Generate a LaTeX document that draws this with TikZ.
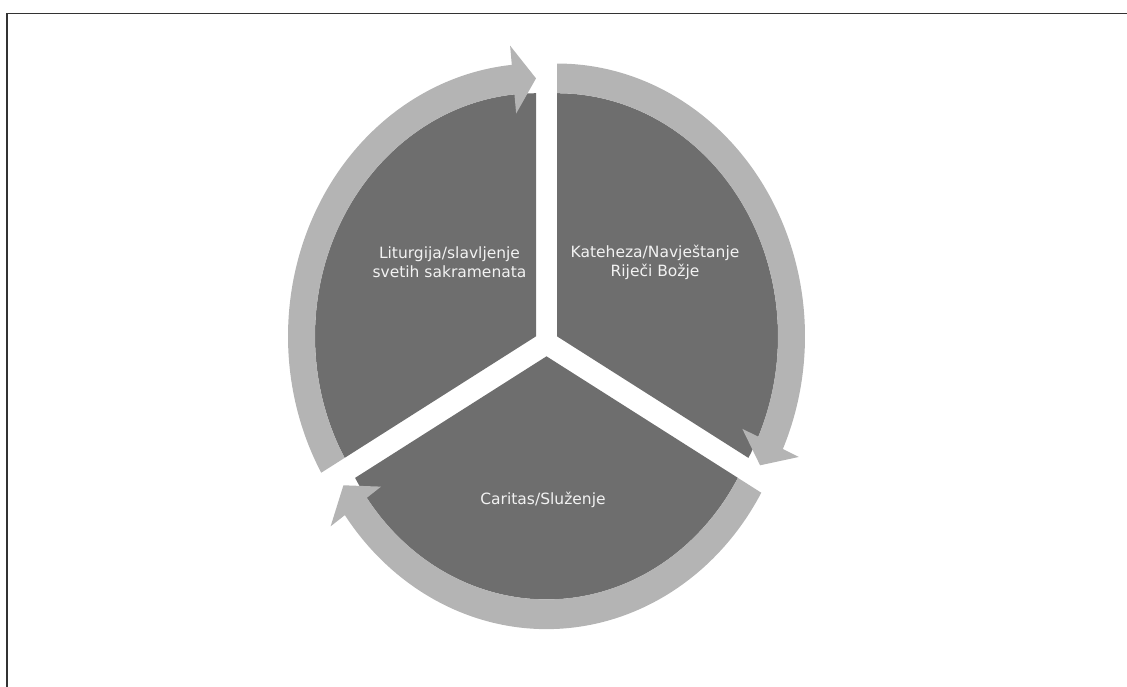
\documentclass[tikz,border=0pt]{standalone}
\usepackage{fontspec}
\setmainfont{DejaVu Sans}
\usetikzlibrary{positioning}
\definecolor{segdark}{RGB}{110,110,110}
\definecolor{ringlight}{RGB}{180,180,180}
\tikzstyle{seg}=[fill=segdark]
\tikzstyle{ring}=[fill=ringlight]
\tikzstyle{lbl}=[text=white!95!black, align=center, font=\fontsize{15.5}{19}\selectfont, inner sep=0pt]
\tikzstyle{frame}=[draw=black!80, line width=1.5pt]

\begin{document}
\begin{tikzpicture}[x=1pt,y=1pt]
\useasboundingbox (0,0) rectangle (1127,687);
\draw[frame] (7,0) -- (7,673.5) -- (1127,673.5);

% Liturgija
\begin{scope}[shift={(546.5,344)},yscale=1.1,shift={(150:12.12)}]
\fill[seg] (0,0) -- (90:221) arc[start angle=90,end angle=210,radius=221] -- cycle;
\fill[ring] (210:248) arc[start angle=210,end angle=95.6,radius=248]
  -- (95.6:265.5) -- (90:234.5) -- (95.6:203.5) -- (95.6:221)
  arc[start angle=95.6,end angle=210,radius=221] -- cycle;
\end{scope}

% Kateheza
\begin{scope}[shift={(546.5,344)},yscale=1.1,shift={(30:12.12)}]
\fill[seg] (0,0) -- (-30:221) arc[start angle=-30,end angle=90,radius=221] -- cycle;
\fill[ring] (90:248) arc[start angle=90,end angle=-24.4,radius=248]
  -- (-24.4:265.5) -- (-30:234.5) -- (-24.4:203.5) -- (-24.4:221)
  arc[start angle=-24.4,end angle=90,radius=221] -- cycle;
\end{scope}

% Caritas
\begin{scope}[shift={(546.5,344)},yscale=1.1,shift={(270:12.12)}]
\fill[seg] (0,0) -- (210:221) arc[start angle=210,end angle=330,radius=221] -- cycle;
\fill[ring] (330:248) arc[start angle=330,end angle=215.6,radius=248]
  -- (215.6:265.5) -- (210:234.5) -- (215.6:203.5) -- (215.6:221)
  arc[start angle=215.6,end angle=330,radius=221] -- cycle;
\end{scope}

\node[lbl] (lit) at (449.5,424.5) {Liturgija/slavljenje\\svetih sakramenata};
\node[lbl] (kat) at (655,424.5) {Kateheza/Navještanje\\Riječi Božje};
\node[lbl] (car) at (543,187) {Caritas/Služenje};
\end{tikzpicture}
\end{document}
